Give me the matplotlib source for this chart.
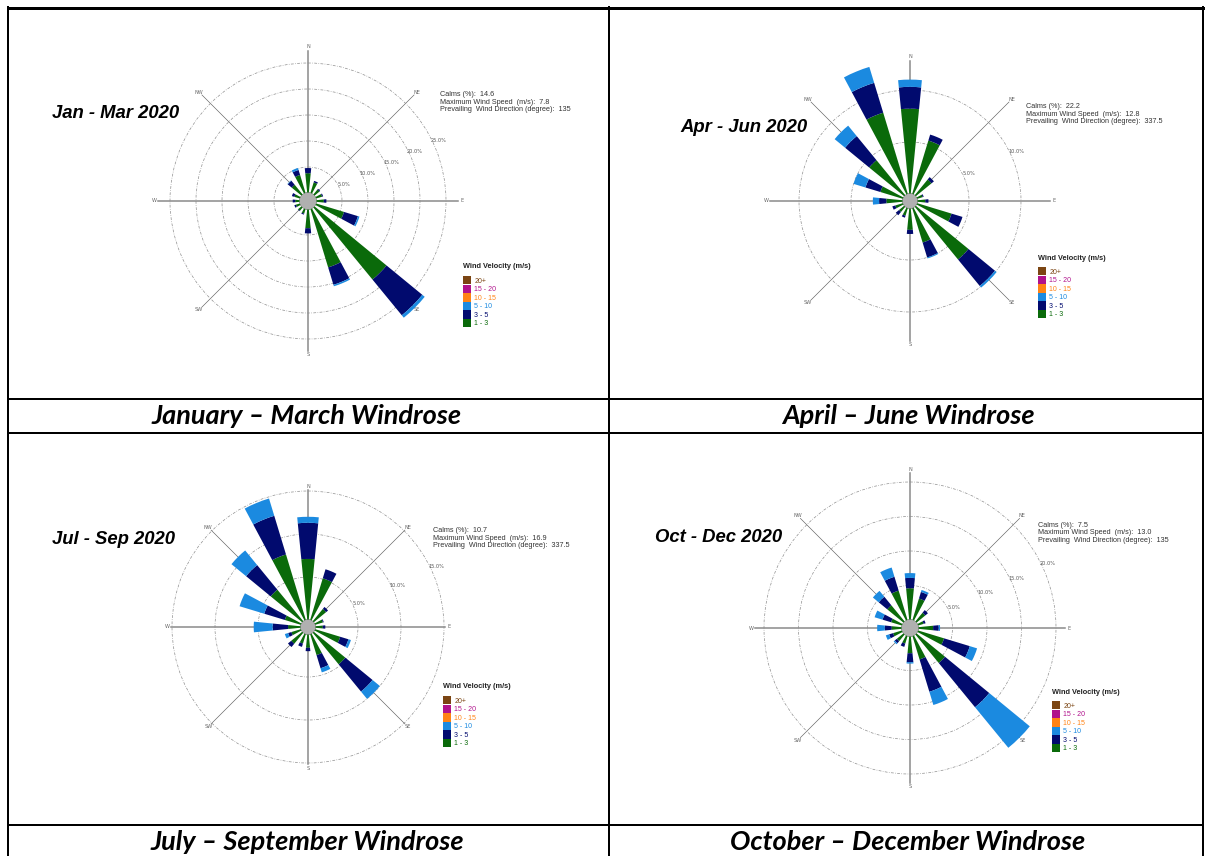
import numpy as np
import matplotlib
matplotlib.use("Agg")
import matplotlib.pyplot as plt
from matplotlib.patches import Circle, Patch

W, H = 1206, 856

DIRECTIONS = ["N", "NNE", "NE", "ENE", "E", "ESE", "SE", "SSE",
              "S", "SSW", "SW", "WSW", "W", "WNW", "NW", "NNW"]
COMPASS = ["N", "NE", "E", "SE", "S", "SW", "W", "NW"]

SPEED_CLASSES = ["20+", "15 - 20", "10 - 15", "5 - 10", "3 - 5", "1 - 3"]
CLASS_COLORS = ["#7b4513", "#b0128c", "#ff8315", "#1b8ae0", "#010a6e", "#0a6a0a"]

# frequency (%) per direction, N clockwise to NNW
jan_mar_1_3 = [3.8, 2.2, 1.3, 1.3, 1.5, 5.7, 18.0, 11.8, 3.7, 1.0, 0.9, 0.9, 0.9, 1.2, 2.5, 3.7]
jan_mar_3_5 = [1.0, 0.3, 0.2, 0.2, 0.5, 2.8, 8.9, 3.5, 1.0, 0.2, 0.1, 0.3, 0.5, 0.5, 1.0, 1.0]
jan_mar_5_10 = [0.0, 0.0, 0.0, 0.0, 0.0, 0.3, 0.6, 0.3, 0.0, 0.0, 0.0, 0.0, 0.0, 0.0, 0.1, 0.4]

apr_jun_1_3 = [8.2, 5.4, 2.0, 0.6, 0.8, 3.5, 6.6, 3.5, 2.1, 0.8, 0.7, 0.8, 1.6, 2.3, 4.4, 8.2]
apr_jun_3_5 = [2.1, 0.6, 0.3, 0.1, 0.3, 1.1, 3.3, 1.5, 0.4, 0.2, 0.4, 0.3, 0.7, 1.5, 3.0, 3.0]
apr_jun_5_10 = [0.7, 0.0, 0.0, 0.0, 0.0, 0.0, 0.2, 0.1, 0.0, 0.0, 0.0, 0.0, 0.6, 1.2, 1.3, 1.6]

jul_sep_1_3 = [7.1, 5.1, 1.9, 1.0, 0.9, 3.1, 4.8, 2.6, 1.6, 1.2, 1.7, 1.2, 1.5, 2.0, 4.8, 8.0]
jul_sep_3_5 = [4.2, 1.1, 0.3, 0.1, 0.3, 1.0, 4.1, 1.6, 0.4, 0.4, 0.5, 0.4, 1.8, 2.5, 3.7, 4.7]
jul_sep_5_10 = [0.7, 0.0, 0.0, 0.0, 0.0, 0.3, 1.1, 0.5, 0.0, 0.0, 0.0, 0.4, 2.2, 3.0, 2.2, 2.1]

oct_dec_1_3 = [4.6, 3.3, 1.7, 0.9, 2.2, 4.0, 5.4, 3.6, 2.5, 1.2, 1.3, 1.4, 1.5, 1.7, 3.1, 4.5]
oct_dec_3_5 = [1.5, 1.0, 0.5, 0.3, 0.8, 3.9, 8.3, 4.9, 1.3, 0.5, 0.4, 0.6, 1.0, 1.3, 1.6, 2.1]
oct_dec_5_10 = [0.7, 0.3, 0.0, 0.0, 0.2, 1.1, 7.6, 2.0, 0.2, 0.0, 0.2, 0.5, 1.1, 1.2, 1.1, 1.4]

PERIODS = ["Jan - Mar 2020", "Apr - Jun 2020", "Jul - Sep 2020", "Oct - Dec 2020"]
CAPTIONS = ["January \u2013 March Windrose", "April \u2013 June Windrose",
            "July \u2013 September Windrose", "October \u2013 December Windrose"]
CALMS = ["14.6", "22.2", "10.7", "7.5"]
MAX_SPEED = ["7.8", "12.8", "16.9", "13.0"]
PREVAILING = ["135", "337.5", "337.5", "135"]

SERIES = [
    (jan_mar_1_3, jan_mar_3_5, jan_mar_5_10),
    (apr_jun_1_3, apr_jun_3_5, apr_jun_5_10),
    (jul_sep_1_3, jul_sep_3_5, jul_sep_5_10),
    (oct_dec_1_3, oct_dec_3_5, oct_dec_5_10),
]

# layout per panel, in pixels: rose centre, px per %, calm radius, axis length
ROSE_CENTER = [(308, 201), (910, 201), (308, 627), (910, 628)]
PX_PER_PCT = [5.2, 10.4, 8.6, 6.9]
CALM_PX = [8, 7, 7, 8]
AXIS_PX = [150, 140, 137, 155]
TITLE_POS = [(52, 113), (680, 128), (52, 540), (655, 538)]
INFO_POS = [(440, 91), (1026, 103), (433, 527), (1038, 522)]
LEGEND_POS = [(463, 267), (1038, 258), (443, 687), (1052, 692)]
CAPTION_POS = [(307, 416), (908, 416), (307, 842), (908, 842)]

RING_LABEL_BEARING = 65
BAR_WIDTH = np.deg2rad(11.25)


def fx(x):
    return x / W


def fy(y):
    return 1 - y / H


fig = plt.figure(figsize=(W / 100, H / 100), dpi=100)

# table grid
bg = fig.add_axes([0, 0, 1, 1])
bg.set_xlim(0, W)
bg.set_ylim(H, 0)
bg.axis("off")
lw = 2 * 72 / 100
bg.plot([8, 1203], [7.5, 7.5], color="black", lw=3 * 72 / 100)
for y in [399, 433, 825]:
    bg.plot([8, 1203], [y, y], color="black", lw=lw)
for x in [8, 609, 1203]:
    bg.plot([x, x], [7, H], color="black", lw=lw)


def draw_rose(i):
    cx, cy = ROSE_CENTER[i]
    k, r0, L = PX_PER_PCT[i], CALM_PX[i], AXIS_PX[i]
    R = L + 14
    ax = fig.add_axes([fx(cx - R), fy(cy + R), 2 * R / W, 2 * R / H],
                      projection="polar")
    ax.set_theta_zero_location("N")
    ax.set_theta_direction(-1)
    ax.set_ylim(0, (R - r0) / k)
    ax.set_rorigin(-r0 / k)
    ax.patch.set_alpha(0)
    for sp in ax.spines.values():
        sp.set_visible(False)
    ax.set_xticks([])
    ax.xaxis.grid(False)

    rings = [r for r in range(5, 60, 5) if r0 + r * k <= L + 2]
    ax.set_yticks(rings)
    ax.set_yticklabels([])
    ax.yaxis.grid(True, color="#8f8f8f", lw=0.5, ls=(0, (4, 2, 1, 2)))
    tb = np.deg2rad(RING_LABEL_BEARING)
    for r in rings:
        ax.text(tb, r + 6 / k, f"{r:.1f}%", fontsize=3.6, color="#555555",
                ha="center", va="center")

    # compass axes
    lmax = (L - r0) / k
    for j, name in enumerate(COMPASS):
        t = np.deg2rad(j * 45)
        if j % 2 == 0:
            ax.plot([t, t], [0, lmax], color="#8a8a8a", lw=1.1, zorder=1)
        else:
            ax.plot([t, t], [0, lmax], color="#606060", lw=0.45, zorder=1)
        ax.text(t, lmax + 4 / k, name, fontsize=3.6, color="#666666",
                ha="center", va="center")

    theta = np.deg2rad(np.arange(len(DIRECTIONS)) * 22.5)
    bottom = np.zeros(len(DIRECTIONS))
    colors = [CLASS_COLORS[5], CLASS_COLORS[4], CLASS_COLORS[3]]
    for vals, c in zip(SERIES[i], colors):
        vals = np.array(vals)
        ax.bar(theta, vals, width=BAR_WIDTH, bottom=bottom, color=c,
               edgecolor="none", zorder=3, clip_on=False)
        bottom += vals

    # calm circle
    ax.add_patch(Circle((0.5, 0.5), 0.5 * (r0 + 0.5) / R, transform=ax.transAxes,
                        fc="#b0b0b0", ec="none", zorder=6, clip_on=False))


for i in range(4):
    draw_rose(i)

    tx, ty = TITLE_POS[i]
    fig.text(fx(tx), fy(ty), PERIODS[i], fontsize=13.3, fontweight="bold",
             style="italic", family="Liberation Sans", va="center")

    ix, iy = INFO_POS[i]
    info = (f"Calms (%):  {CALMS[i]}\n"
            f"Maximum Wind Speed  (m/s):  {MAX_SPEED[i]}\n"
            f"Prevailing  Wind Direction (degree):  {PREVAILING[i]}")
    fig.text(fx(ix), fy(iy), info, fontsize=5.2, color="#333333",
             family="Liberation Sans", va="top", linespacing=1.1)

    lx, ly = LEGEND_POS[i]
    fig.text(fx(lx), fy(ly), "Wind Velocity (m/s)", fontsize=5.3,
             fontweight="bold", family="Liberation Sans", color="#222222",
             va="center")
    leg = fig.legend(handles=[Patch(fc=c, ec="none") for c in CLASS_COLORS],
                     labels=SPEED_CLASSES, loc="upper left",
                     bbox_to_anchor=(fx(lx), fy(ly + 9)), bbox_transform=fig.transFigure,
                     frameon=False, prop={"family": "Liberation Sans", "size": 5},
                     handlelength=1.15, handleheight=1.5, labelspacing=0,
                     handletextpad=0.45, borderpad=0, borderaxespad=0)
    for t, c in zip(leg.get_texts(), CLASS_COLORS):
        t.set_color(c)

    cx, cy = CAPTION_POS[i]
    fig.text(fx(cx), fy(cy), CAPTIONS[i], fontsize=19.5, fontweight="bold",
             style="italic", family="Lato", ha="center", va="center")

fig.savefig("out.png", dpi=100)
